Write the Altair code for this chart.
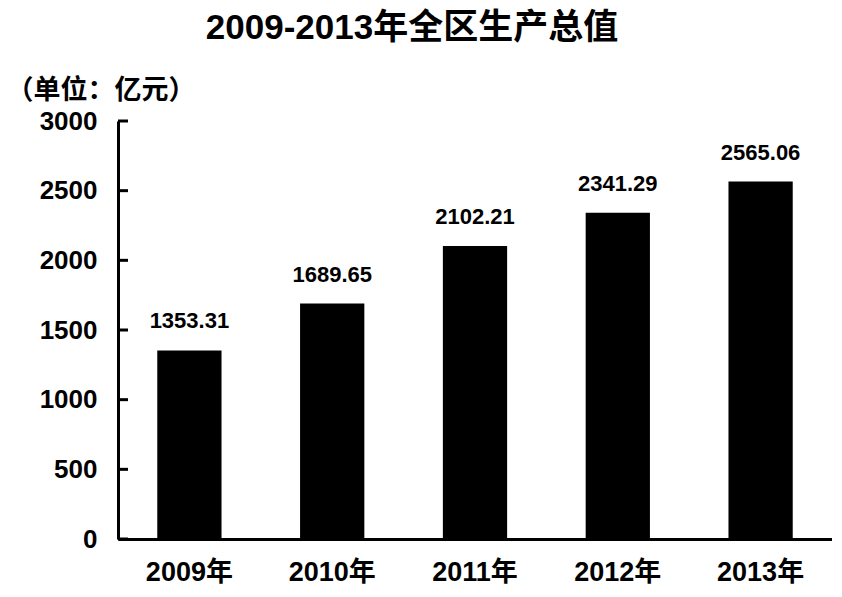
import altair as alt
import pandas as pd

years = ["2009年", "2010年", "2011年", "2012年", "2013年"]
values = [1353.31, 1689.65, 2102.21, 2341.29, 2565.06]
labels = ["1353.31", "1689.65", "2102.21", "2341.29", "2565.06"]
tick_values = [0, 500, 1000, 1500, 2000, 2500, 3000]

FONT = "Liberation Sans, Arial, Noto Sans CJK SC"

df = pd.DataFrame({"year": years, "value": values, "label": labels})
ticks_df = pd.DataFrame({"t": tick_values})

x_enc = alt.X(
    "year:N",
    sort=years,
    scale=alt.Scale(paddingInner=0.55, paddingOuter=0.275),
    axis=alt.Axis(
        title=None, labelAngle=0, ticks=False, domainColor="black", domainWidth=3,
        labelFont=FONT, labelFontSize=27, labelFontWeight="bold", labelColor="black",
        labelPadding=20,
    ),
)
y_scale = alt.Scale(domain=[0, 3000], nice=False)
y_enc = alt.Y(
    "value:Q",
    scale=y_scale,
    axis=alt.Axis(
        title="（单位：亿元）", titleAngle=0, titleAlign="left", titleBaseline="middle",
        titleX=-112, titleY=-31, titleFont=FONT, titleFontSize=27, titleFontWeight="bold",
        titleColor="black", format="d",
        values=tick_values, ticks=False, grid=False, domainColor="black", domainWidth=3,
        labelFont=FONT, labelFontSize=26, labelFontWeight="bold", labelColor="black",
        labelPadding=21,
    ),
)

bars = alt.Chart(df).mark_bar(color="black").encode(x=x_enc, y=y_enc)
text = alt.Chart(df).mark_text(
    baseline="bottom", dy=-17, font=FONT, fontSize=22, fontWeight="bold", color="black"
).encode(x=alt.X("year:N", sort=years), y=alt.Y("value:Q", scale=y_scale), text="label:N")
ticks = alt.Chart(ticks_df).mark_rule(color="black", strokeWidth=3).encode(
    x=alt.value(0), x2=alt.value(10), y=alt.Y("t:Q", scale=y_scale)
)

chart = alt.layer(bars, text, ticks).properties(
    width=714,
    height=418,
    title=alt.TitleParams(
        "2009-2013年全区生产总值", font=FONT, fontSize=35, fontWeight="bold",
        color="black", anchor="middle", dx=-63, offset=30,
    ),
    autosize=alt.AutoSizeParams(type="none"),
    padding={"left": 110, "top": 113, "right": 0, "bottom": 50},
).configure_view(strokeWidth=0)

chart.save("out.html", embed_options={"renderer": "svg", "actions": False})
